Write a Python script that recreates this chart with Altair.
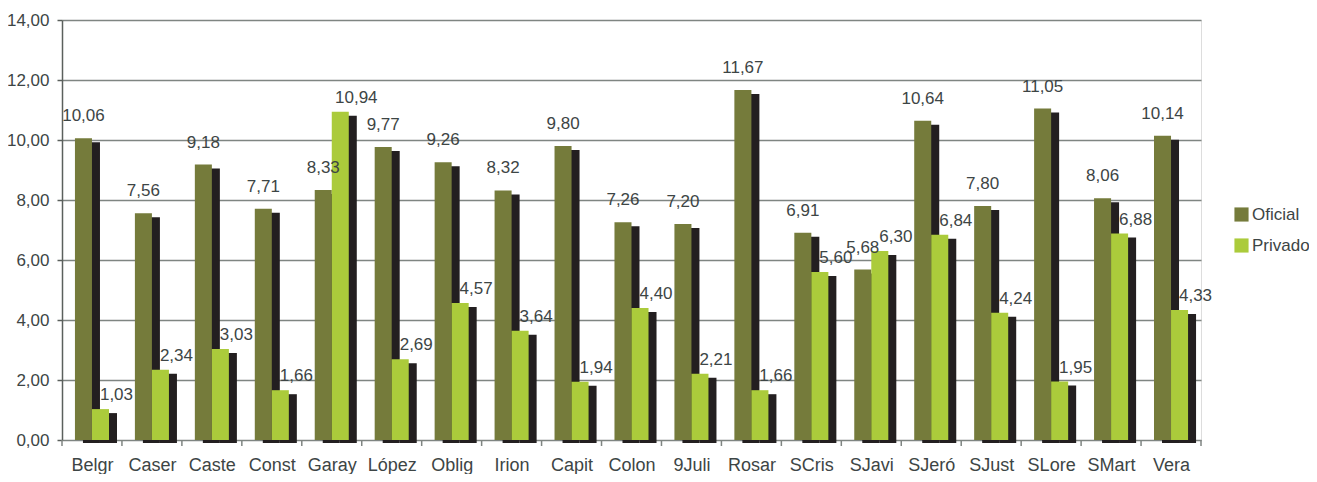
import json
import altair as alt
import pandas as pd

categories = ["Belgr", "Caser", "Caste", "Const", "Garay", "López", "Oblig", "Irion", "Capit",
              "Colon", "9Juli", "Rosar", "SCris", "SJavi", "SJeró", "SJust", "SLore", "SMart", "Vera"]
oficial = [10.06, 7.56, 9.18, 7.71, 8.33, 9.77, 9.26, 8.32, 9.80, 7.26, 7.20, 11.67, 6.91, 5.68,
           10.64, 7.80, 11.05, 8.06, 10.14]
privado = [1.03, 2.34, 3.03, 1.66, 10.94, 2.69, 4.57, 3.64, 1.94, 4.40, 2.21, 1.66, 5.60, 6.30,
           6.84, 4.24, 1.95, 6.88, 4.33]
series = ["Oficial", "Privado"]
y_ticks = [0, 2, 4, 6, 8, 10, 12, 14]

rows = []
for i, (c, o, p) in enumerate(zip(categories, oficial, privado)):
    rows.append({"cat": c, "idx": i, "serie": series[0], "s": 0, "valor": o})
    rows.append({"cat": c, "idx": i, "serie": series[1], "s": 1, "valor": p})
df = pd.DataFrame(rows)
bounds = pd.DataFrame({"b": list(range(len(categories) + 1))})

FONT = "Liberation Sans"
TXT = "#3d4545"
GRID = "#7f8582"
BW = 0.284  # bar width in category units

n = len(categories)
x_scale = alt.Scale(domain=[0, n], nice=False, zero=False)
label_expr = json.dumps(categories, ensure_ascii=False) + "[floor(datum.value)]"
x_axis = alt.Axis(values=[i + 0.5 for i in range(n)], labelExpr=label_expr, ticks=False,
                  domain=False, grid=False, labelFont=FONT, labelFontSize=18, labelColor=TXT,
                  labelPadding=16, labelFlush=False, labelOverlap=False)
y_scale = alt.Scale(domain=[0, 14], nice=False)
y_axis = alt.Axis(values=y_ticks, labelExpr="replace(format(datum.value, '.2f'), '.', ',')",
                  grid=True, gridColor=GRID, gridWidth=1.5, domainColor="#5b605d",
                  domainWidth=1.5, tickColor="#5b605d", tickWidth=1.5, tickSize=5,
                  labelFont=FONT, labelFontSize=17, labelColor=TXT, labelPadding=8)

base = alt.Chart(df).transform_calculate(
    x0=f"datum.idx + 0.5 + (datum.s - 1) * {BW}",
    x1=f"datum.idx + 0.5 + datum.s * {BW}",
    xm=f"datum.idx + 0.5 + (datum.s - 0.5) * {BW}",
    lab="replace(format(datum.valor, '.2f'), '.', ',')",
)

X0 = alt.X("x0:Q", scale=x_scale, axis=x_axis, title=None)
X1 = alt.X2("x1:Q")
Y = alt.Y("valor:Q", scale=y_scale, axis=y_axis, title=None)
Y2 = alt.Y2(datum=0)

shadow = base.mark_bar(color="#231f20", xOffset=8, x2Offset=8, yOffset=4, y2Offset=3).encode(
    x=X0, x2=X1, y=Y, y2=Y2
)

bars = base.mark_bar().encode(
    x=X0, x2=X1, y=Y, y2=Y2,
    color=alt.Color("serie:N", sort=series, title=None,
                    scale=alt.Scale(domain=series, range=["#757b3b", "#abcb3b"]),
                    legend=alt.Legend(orient="none", legendX=1171, legendY=186,
                                      symbolType="square", symbolSize=200, symbolStrokeWidth=0,
                                      labelFont=FONT, labelFontSize=17, labelColor=TXT,
                                      rowPadding=13, labelOffset=2))
)

XM = alt.X("xm:Q", scale=x_scale, axis=x_axis, title=None)

lab_of = base.transform_filter("datum.s == 0").mark_text(
    font=FONT, fontSize=17, color=TXT, dy=-22, baseline="middle"
).encode(x=XM, y=Y, text="lab:N")

lab_pr = base.transform_filter("datum.s == 1").mark_text(
    font=FONT, fontSize=17, color=TXT, dx=16, dy=-14, baseline="middle"
).encode(x=XM, y=Y, text="lab:N")

ticks = alt.Chart(bounds).mark_rule(color=GRID, strokeWidth=1.5).encode(
    x=alt.X("b:Q", scale=x_scale, axis=x_axis, title=None),
    y=alt.value(420), y2=alt.value(426)
)

chart = alt.layer(shadow, bars, ticks, lab_of, lab_pr).properties(
    width=1139, height=420,
    autosize=alt.AutoSizeParams(type="none"),
    padding={"left": 54, "top": 12, "right": 108, "bottom": 34},
).configure_view(
    fill="#d0d0d0", stroke="#a6a6a6", strokeWidth=2
).configure(background="white")

chart.save("out.html", embed_options={"renderer": "svg", "actions": False})
